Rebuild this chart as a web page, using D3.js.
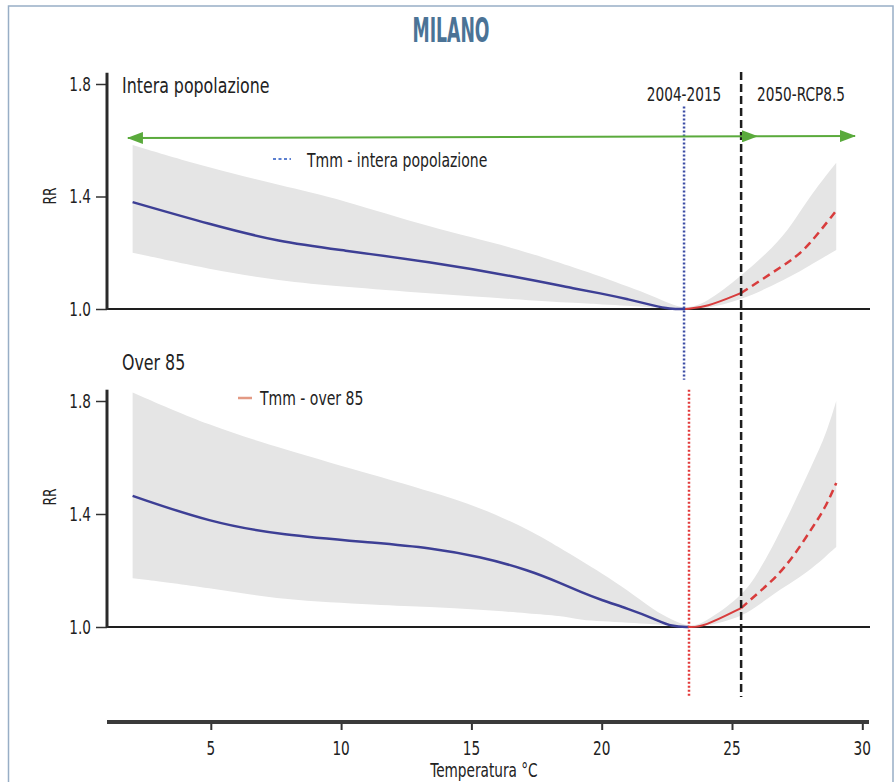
<!DOCTYPE html>
<html>
<head>
<meta charset="utf-8">
<script src="https://cdn.jsdelivr.net/npm/d3@7"></script>
<style>
  body { margin: 0; background: #fff; }
  text { font-family: "Liberation Sans Narrow", "DejaVu Sans Condensed", "Roboto", sans-serif; fill: #222; }
</style>
</head>
<body>
<script>
// ---- data ----------------------------------------------------------
var tempsTop = [2, 5, 7.65, 10, 13.4, 16.6, 19.2, 20, 21, 22, 22.6, 23.2, 24, 25.35, 26.6, 27.3, 27.9, 29];
var rrTop    = [1.38, 1.30, 1.238, 1.21, 1.167, 1.117, 1.068, 1.055, 1.035, 1.012, 1.0, 1.0, 1.006, 1.057, 1.132, 1.175, 1.22, 1.35];
var loTop    = [1.20, 1.14, 1.10, 1.08, 1.055, 1.035, 1.02, 1.016, 1.012, 1.005, 1.002, 1.0, 1.0, 1.032, 1.085, 1.118, 1.15, 1.21];
var hiTop    = [1.583, 1.50, 1.44, 1.39, 1.29, 1.22, 1.139, 1.115, 1.08, 1.045, 1.02, 1.0, 1.02, 1.117, 1.22, 1.30, 1.39, 1.52];

var tempsBot = [2, 5, 7.65, 11.5, 13.4, 15.3, 17.25, 18.4, 19.2, 20, 21, 22, 22.7, 23.35, 23.9, 25.35, 26, 26.7, 27.35, 28.1, 28.6, 29];
var rrBot    = [1.464, 1.37, 1.326, 1.297, 1.28, 1.25, 1.20, 1.156, 1.124, 1.095, 1.065, 1.03, 1.0, 1.0, 1.0, 1.067, 1.12, 1.177, 1.248, 1.354, 1.425, 1.51];
var loBot    = [1.173, 1.138, 1.096, 1.078, 1.071, 1.062, 1.048, 1.04, 1.025, 1.02, 1.015, 1.01, 1.005, 1.0, 1.0, 1.035, 1.075, 1.125, 1.16, 1.21, 1.25, 1.283];
var hiBot    = [1.83, 1.71, 1.634, 1.531, 1.48, 1.425, 1.343, 1.28, 1.235, 1.19, 1.13, 1.06, 1.025, 1.0, 1.012, 1.106, 1.19, 1.31, 1.43, 1.58, 1.68, 1.80];

var tmmAll = 23.16;      // Tmm - intera popolazione
var tmmOver85 = 23.35;   // Tmm - over 85
var t2050 = 25.35;       // 2050-RCP8.5 threshold

var yTicks = [1.0, 1.4, 1.8];
var xTicks = [5, 10, 15, 20, 25, 30];

// green range arrow: [temperature, RR] in the top panel
var arrowLeft = [1.82, 1.608];
var arrowMid = [25.96, 1.614];
var arrowRight = [29.72, 1.615];

// ---- layout --------------------------------------------------------
var W = 896, H = 782;
var squeeze = 0.8;   // the original font is narrower than what we have

var svg = d3.select('body')
  .append('svg')
  .attr('width', W)
  .attr('height', H);

function label(parent, tx, ty, str, size, anchor) {
  return parent.append('text')
    .attr('transform', 'translate(' + tx + ',' + ty + ') scale(' + squeeze + ',1)')
    .attr('text-anchor', anchor || 'start')
    .attr('font-size', size)
    .text(str);
}

var defs = svg.append('defs');
defs.append('marker')
  .attr('id', 'green_head')
  .attr('markerUnits', 'userSpaceOnUse')
  .attr('viewBox', '0 0 16 12')
  .attr('markerWidth', 16)
  .attr('markerHeight', 12)
  .attr('refX', 15)
  .attr('refY', 6)
  .attr('orient', 'auto-start-reverse')
  .append('path')
  .attr('d', 'M0,0 L16,6 L0,12 Z')
  .attr('fill', '#5aaa3c');

// frame
svg.append('rect')
  .attr('x', 8.5)
  .attr('y', 6)
  .attr('width', 884.5)
  .attr('height', 820)
  .attr('fill', 'none')
  .attr('stroke', '#98aec6')
  .attr('stroke-width', 1.5);

svg.append('text')
  .attr('x', 451)
  .attr('y', 42)
  .attr('text-anchor', 'middle')
  .attr('font-size', 33)
  .attr('font-weight', 'bold')
  .attr('textLength', 77)
  .attr('lengthAdjust', 'spacingAndGlyphs')
  .style('fill', '#4b7396')
  .text('MILANO');

var x = d3.scaleLinear().domain([0, 30]).range([80.5, 862.3]);
var yTop = d3.scaleLinear().domain([1, 1.8]).range([309, 84]);
var yBot = d3.scaleLinear().domain([1, 1.8]).range([627, 401]);

function zip(t, rr, lo, hi) {
  return t.map(function(d, i) { return {t: d, rr: rr[i], lo: lo[i], hi: hi[i]}; });
}

var panels = [
  {title: 'Intera popolazione', titleY: 93, y: yTop, rrY: 196, tmm: tmmAll,
   data: zip(tempsTop, rrTop, loTop, hiTop)},
  {title: 'Over 85', titleY: 370, y: yBot, rrY: 497, tmm: tmmOver85,
   data: zip(tempsBot, rrBot, loBot, hiBot)}
];

panels.forEach(function(p) {
  var y = p.y;
  var g = svg.append('g').attr('class', 'panel');

  var area = d3.area()
    .x(function(d) { return x(d.t); })
    .y0(function(d) { return y(d.lo); })
    .y1(function(d) { return y(d.hi); })
    .curve(d3.curveBasis);

  var line = d3.line()
    .x(function(d) { return x(d.t); })
    .y(function(d) { return y(d.rr); })
    .curve(d3.curveBasis);

  g.append('path')
    .datum(p.data)
    .attr('d', area)
    .attr('fill', '#e5e5e5');

  // baseline RR = 1
  g.append('line')
    .attr('x1', 107).attr('x2', 870)
    .attr('y1', y(1)).attr('y2', y(1))
    .attr('stroke', '#1e1e1e')
    .attr('stroke-width', 2);

  var cold = p.data.filter(function(d) { return d.t <= p.tmm + 0.05; });
  var warm = p.data.filter(function(d) { return d.t >= p.tmm - 0.05 && d.t <= t2050; });
  var hot = p.data.filter(function(d) { return d.t >= t2050; });

  g.append('path')
    .datum(cold)
    .attr('d', line)
    .attr('fill', 'none')
    .attr('stroke', '#3d3f95')
    .attr('stroke-width', 2.5);

  g.append('path')
    .datum(warm)
    .attr('d', line)
    .attr('fill', 'none')
    .attr('stroke', '#d83c3c')
    .attr('stroke-width', 2);

  g.append('path')
    .datum(hot)
    .attr('d', line)
    .attr('fill', 'none')
    .attr('stroke', '#d83c3c')
    .attr('stroke-width', 2.5)
    .attr('stroke-dasharray', '8,5');

  // y axis
  var yAxis = d3.axisLeft(y)
    .tickValues(yTicks)
    .tickFormat(d3.format('.1f'))
    .tickSize(11)
    .tickPadding(5);

  var ag = g.append('g')
    .attr('transform', 'translate(107,0)')
    .call(yAxis);
  ag.select('.domain').remove();
  ag.selectAll('.tick line').attr('stroke', '#333').attr('stroke-width', 1.5);
  ag.selectAll('.tick text').remove();
  yTicks.forEach(function(v) {
    label(g, 91, y(v) + 6.5, d3.format('.1f')(v), 19, 'end');
  });

  g.append('line')
    .attr('x1', 107).attr('x2', 107)
    .attr('y1', y(1.84)).attr('y2', y(1) + 1)
    .attr('stroke', '#2a2a2a')
    .attr('stroke-width', 3);

  g.append('text')
    .attr('transform', 'translate(56,' + p.rrY + ') rotate(-90) scale(' + squeeze + ',1)')
    .attr('text-anchor', 'middle')
    .attr('font-size', 17)
    .text('RR');

  label(g, 122, p.titleY, p.title, 22);
});

// ---- reference lines -----------------------------------------------
svg.append('line')
  .attr('x1', x(tmmAll)).attr('x2', x(tmmAll))
  .attr('y1', yTop(1.72)).attr('y2', yBot(1.875))
  .attr('stroke', '#3e4ea6')
  .attr('stroke-width', 2.5)
  .attr('stroke-dasharray', '2,2');

svg.append('line')
  .attr('x1', x(tmmOver85)).attr('x2', x(tmmOver85))
  .attr('y1', yBot(1.84)).attr('y2', yBot(0.752))
  .attr('stroke', '#e23b3b')
  .attr('stroke-width', 2.5)
  .attr('stroke-dasharray', '2,2');

svg.append('line')
  .attr('x1', x(t2050)).attr('x2', x(t2050))
  .attr('y1', yTop(1.843)).attr('y2', yBot(0.752))
  .attr('stroke', '#1e1e1e')
  .attr('stroke-width', 2.5)
  .attr('stroke-dasharray', '8,4');

label(svg, x(tmmAll), 101, '2004-2015', 19, 'middle');
label(svg, 757, 101, '2050-RCP8.5', 19);

// green arrows
svg.append('line')
  .attr('x1', x(arrowLeft[0])).attr('y1', yTop(arrowLeft[1]))
  .attr('x2', x(arrowMid[0])).attr('y2', yTop(arrowMid[1]))
  .attr('stroke', '#5aaa3c')
  .attr('stroke-width', 2)
  .attr('marker-start', 'url(#green_head)')
  .attr('marker-end', 'url(#green_head)');

svg.append('line')
  .attr('x1', x(arrowMid[0])).attr('y1', yTop(arrowMid[1]))
  .attr('x2', x(arrowRight[0])).attr('y2', yTop(arrowRight[1]))
  .attr('stroke', '#5aaa3c')
  .attr('stroke-width', 2)
  .attr('marker-end', 'url(#green_head)');

// ---- legends -------------------------------------------------------
svg.append('line')
  .attr('x1', 273).attr('x2', 291)
  .attr('y1', 159).attr('y2', 159)
  .attr('stroke', '#5b7fd0')
  .attr('stroke-width', 2)
  .attr('stroke-dasharray', '3,2.5');

label(svg, 307, 167, 'Tmm - intera popolazione', 19.5);

svg.append('line')
  .attr('x1', 238).attr('x2', 252)
  .attr('y1', 398).attr('y2', 398)
  .attr('stroke', '#e39a84')
  .attr('stroke-width', 2.5);

label(svg, 260, 405, 'Tmm - over 85', 19.5);

// ---- x axis --------------------------------------------------------
var xAxis = d3.axisBottom(x)
  .tickValues(xTicks)
  .tickSize(8)
  .tickPadding(12);

var xg = svg.append('g')
  .attr('transform', 'translate(0,722)')
  .call(xAxis);
xg.select('.domain').remove();
xg.selectAll('.tick line').attr('stroke', '#333').attr('stroke-width', 2);
xg.selectAll('.tick text').remove();
xTicks.forEach(function(v) {
  label(svg, x(v), 755, String(v), 19, 'middle');
});

svg.append('line')
  .attr('x1', 107).attr('x2', 869)
  .attr('y1', 722).attr('y2', 722)
  .attr('stroke', '#3a3a3a')
  .attr('stroke-width', 4);

label(svg, 484, 777, 'Temperatura °C', 19, 'middle');
</script>
</body>
</html>
